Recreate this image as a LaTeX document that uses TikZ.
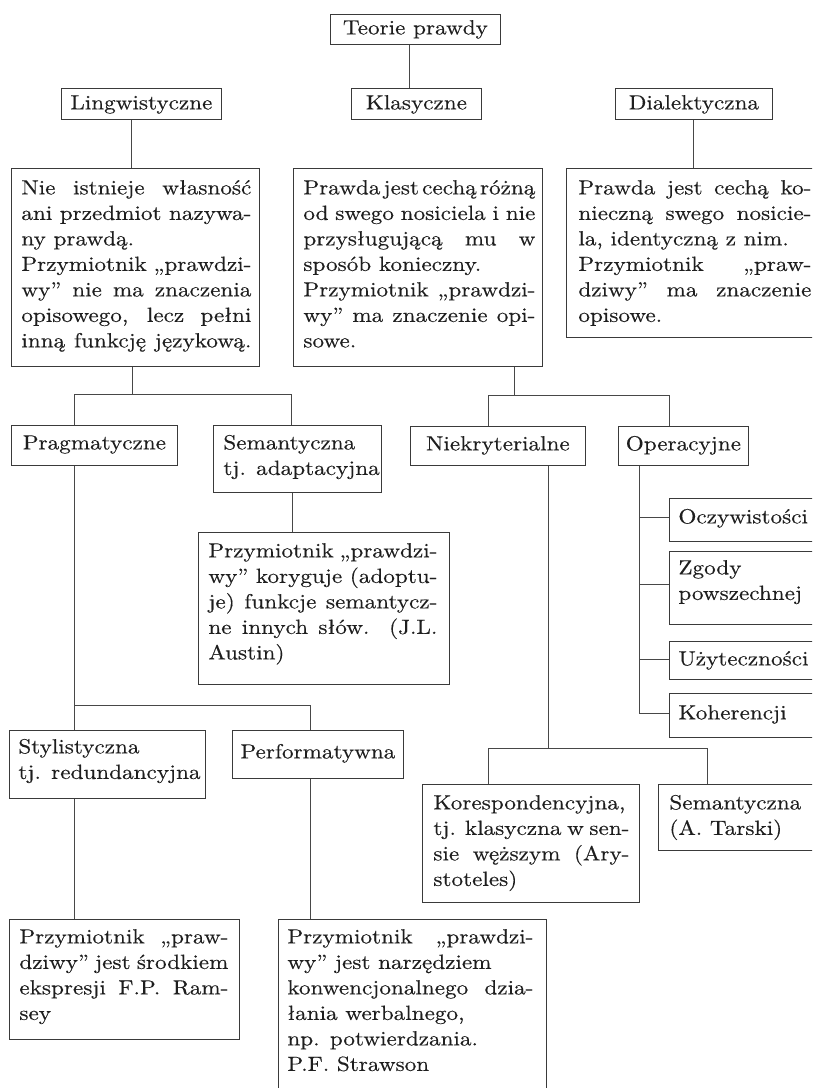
\documentclass[tikz,border=0pt]{standalone}
\usepackage{fontspec}
\setmainfont{lmroman10-regular.otf}[FakeStretch=1.13,FakeBold=0.3]
\definecolor{boxc}{HTML}{3A3A3A}
\definecolor{linec}{HTML}{484848}
\definecolor{textc}{HTML}{1E1E1E}
\newcommand{\bodyfont}{\fontsize{20.5}{25.5}\selectfont}
\newcommand{\mystrutx}{\vrule width0pt height15pt depth6pt\relax}
\newcommand{\lnJ}[1]{\hbox to\hsize{\spaceskip=.333em plus .8em minus .25em\relax\mystrutx#1}}
\newcommand{\lnR}[1]{\hbox{\mystrutx#1}}
\newcommand{\lnC}[1]{\hbox to\hsize{\hfil\mystrutx#1\hfil}}
% #1 width, #2 height, #3 first baseline offset, #4 left pad, #5 text width, #6 lines
\newcommand{\boxtxt}[6]{\vbox to #2pt{\kern\dimexpr #3pt-15pt\relax
  \moveright #4pt\vtop{\hsize=#5pt\relax #6}\vfil
  \hrule height0pt depth0pt width #1pt}}
\begin{document}
\begin{tikzpicture}[x=1pt,y=-1pt,
  box/.style={draw=boxc, line width=0.8pt, inner sep=0pt, anchor=north west, font=\bodyfont, text=textc},
  conn/.style={draw=linec, line width=0.8pt}]
\fill[white] (0,0) rectangle (812,1088);
\useasboundingbox (0,0) rectangle (812,1088);
\clip (0,0) rectangle (812,1088);

% top level
\node[box] (teorie) at (330,14) {\boxtxt{170}{30}{20}{0}{170}{\lnC{Teorie prawdy}}};
\node[box] (lingw) at (61,88) {\boxtxt{160}{31}{21}{0}{160}{\lnC{Lingwistyczne}}};
\node[box] (klas) at (351,88) {\boxtxt{130}{31}{21}{0}{130}{\lnC{Klasyczne}}};
\node[box] (dial) at (615,88) {\boxtxt{157}{31}{21}{0}{157}{\lnC{Dialektyczna}}};

% big boxes
\node[box] (lbox) at (11,168) {\boxtxt{248}{198}{26}{10}{230}{%
  \lnJ{Nie istnieje własność}
  \lnJ{ani przedmiot nazywa-}
  \lnR{ny prawdą.}
  \lnJ{Przymiotnik „prawdzi-}
  \lnJ{wy” nie ma znaczenia}
  \lnJ{opisowego, lecz pełni}
  \lnJ{inną funkcję językową.}}};
\node[box] (mbox) at (293,168) {\boxtxt{249}{198}{26}{10}{232}{%
  \lnJ{Prawda jest cechą różną}
  \lnJ{od swego nosiciela i nie}
  \lnJ{przysługującą mu w}
  \lnR{sposób konieczny.}
  \lnJ{Przymiotnik „prawdzi-}
  \lnJ{wy” ma znaczenie opi-}
  \lnR{sowe.}}};
\node[box] (rbox) at (566,168) {\boxtxt{257}{169}{26}{12}{233}{%
  \lnJ{Prawda jest cechą ko-}
  \lnJ{nieczną swego nosicie-}
  \lnR{la, identyczną z nim.}
  \lnJ{Przymiotnik „praw-}
  \lnJ{dziwy” ma znaczenie}
  \lnR{opisowe.}}};

% second level
\node[box] (prag) at (11,425) {\boxtxt{166}{40}{24}{0}{166}{\lnC{Pragmatyczne}}};
\node[box] (sem1) at (213,425) {\boxtxt{168}{67}{24}{10}{150}{%
  \lnR{Semantyczna}
  \lnR{tj. adaptacyjna}}};
\node[box] (niek) at (410,426) {\boxtxt{175}{39}{24}{0}{175}{\lnC{Niekryterialne}}};
\node[box] (oper) at (618,426) {\boxtxt{130}{39}{24}{0}{130}{\lnC{Operacyjne}}};

% operacyjne children
\node[box] (ocz) at (669,498) {\boxtxt{150}{43}{25}{9}{135}{\lnR{Oczywistości}}};
\node[box] (zgody) at (669,551) {\boxtxt{150}{73}{23}{9}{135}{%
  \lnR{Zgody}
  \lnR{powszechnej}}};
\node[box] (uzyt) at (669,641) {\boxtxt{150}{38}{24}{9}{135}{\lnR{Użyteczności}}};
\node[box] (koh) at (669,693) {\boxtxt{150}{44}{26}{9}{135}{\lnR{Koherencji}}};

% austin
\node[box] (austin) at (198,532) {\boxtxt{251}{152}{25}{10}{229}{%
  \lnJ{Przymiotnik „prawdzi-}
  \lnJ{wy” koryguje (adoptu-}
  \lnJ{je) funkcje semantycz-}
  \lnJ{ne innych słów. (J.L.}
  \lnR{Austin)}}};

% third level left
\node[box] (styl) at (9,730) {\boxtxt{196}{68}{23}{9}{180}{%
  \lnR{Stylistyczna}
  \lnR{tj. redundancyjna}}};
\node[box] (perf) at (232,730) {\boxtxt{171}{48}{28}{0}{171}{\lnC{Performatywna}}};

% niekryterialne children
\node[box] (kor) at (422,784) {\boxtxt{217}{118}{25}{11}{196}{%
  \lnR{Korespondencyjna,}
  \lnJ{tj. klasyczna w sen-}
  \lnJ{sie węższym (Ary-}
  \lnR{stoteles)}}};
\node[box] (tarski) at (658,784) {\boxtxt{160}{66}{25}{11}{140}{%
  \lnR{Semantyczna}
  \lnR{(A. Tarski)}}};

% bottom
\node[box] (ramsey) at (9,919) {\boxtxt{230}{120}{24}{10}{209}{%
  \lnJ{Przymiotnik „praw-}
  \lnJ{dziwy” jest środkiem}
  \lnJ{ekspresji F.P. Ram-}
  \lnR{sey}}};
\node[box] (strawson) at (278,919) {\boxtxt{268}{180}{24}{9}{246}{%
  \lnJ{Przymiotnik „prawdzi-}
  \lnR{wy” jest narzędziem}
  \lnJ{konwencjonalnego dzia-}
  \lnR{łania werbalnego,}
  \lnR{np. potwierdzania.}
  \lnR{P.F. Strawson}}};

% connectors
\draw[conn] ([xshift=-6pt]teorie.south) -- ([xshift=-7pt]klas.north);
\draw[conn] ([xshift=-10pt]lingw.south) -- ([xshift=-4pt]lbox.north);
\draw[conn] ([xshift=-0.5pt]dial.south) -- ([xshift=-1.5pt]rbox.north);

\draw[conn] ([xshift=-3pt]lbox.south) -- ++(0,28);
\draw[conn] ([xshift=-20pt]prag.north) -- ++(0,-31) -| ([xshift=-6pt]sem1.north);
\draw[conn] ([xshift=-20pt]prag.south) -- ([xshift=-33pt]styl.north);
\draw[conn] ([xshift=-33pt]styl.north) ++(0,-25) -| ([xshift=-7.5pt]perf.north);
\draw[conn] ([xshift=-5pt]sem1.south) -- ([xshift=-31.5pt]austin.north);
\draw[conn] ([xshift=-33pt]styl.south) -- ([xshift=-50pt]ramsey.north);
\draw[conn] ([xshift=-7.5pt]perf.south) -- ([xshift=-102pt]strawson.north);

\draw[conn] ([xshift=96.5pt]mbox.south) -- ++(0,29);
\draw[conn] ([xshift=-9.5pt]niek.north) -- ++(0,-31) -| ([xshift=-14pt]oper.north);
\draw[conn] ([xshift=50.5pt]niek.south) -- ++(0,283);
\draw[conn] ([xshift=-42.5pt]kor.north) -- ++(0,-36) -| ([xshift=-31pt]tarski.north);

\draw[conn] ([xshift=-44pt]oper.south) |- ([yshift=2.5pt]ocz.west);
\draw[conn] ([xshift=-44pt]oper.south) |- ([yshift=3.5pt]zgody.west);
\draw[conn] ([xshift=-44pt]oper.south) |- ([yshift=1pt]uzyt.west);
\draw[conn] ([xshift=-44pt]oper.south) |- ([yshift=2pt]koh.west);
\end{tikzpicture}
\end{document}
